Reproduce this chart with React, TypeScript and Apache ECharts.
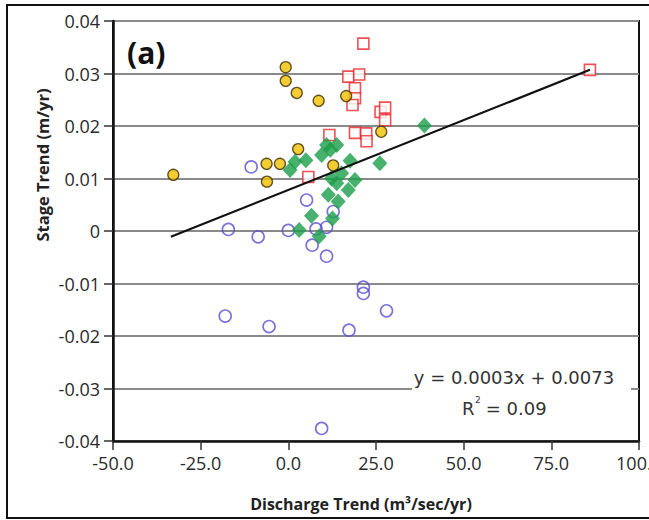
import React, { useEffect, useRef } from "react";
import * as echarts from "echarts";

// ---- data ----
const goldX = [-0.75, -0.75, 2.4, 8.65, 16.5, 2.8, -6.2, -2.4, -6.1, -32.8, 12.8, 26.5];
const goldY = [0.0312, 0.0286, 0.0263, 0.0248, 0.0257, 0.0156, 0.0128, 0.0128, 0.0094, 0.0107, 0.0125, 0.0189];

const redX = [21.4, 17.1, 20.2, 19.0, 19.0, 18.3, 26.3, 27.6, 27.6, 19.0, 22.2, 22.3, 11.7, 5.7, 86.0];
const redY = [0.0357, 0.0294, 0.0298, 0.0272, 0.0253, 0.024, 0.0227, 0.0235, 0.0211, 0.0187, 0.0186, 0.0171, 0.0183, 0.0103, 0.0307];

const greenX = [0.5, 1.9, 5.0, 9.5, 10.9, 13.8, 12.0, 17.6, 26.1, 38.8, 12.3, 15.2, 13.8, 17.1, 19.0, 11.4, 14.2, 6.6, 12.6, 3.1, 8.8];
const greenY = [0.0116, 0.0132, 0.0135, 0.0145, 0.0164, 0.0164, 0.0155, 0.0134, 0.0129, 0.0201, 0.01, 0.011, 0.0091, 0.0078, 0.0097, 0.0069, 0.0056, 0.0029, 0.0024, 0.0002, -0.001];

const blueX = [-10.6, 5.2, 12.8, -17.1, -8.6, 0.0, 7.9, 10.9, 6.8, 10.9, 21.4, 21.4, -18.0, -5.5, 17.3, 28.0, 9.5];
const blueY = [0.0122, 0.0059, 0.0037, 0.0003, -0.0011, 0.0001, 0.0004, 0.0007, -0.0027, -0.0048, -0.0107, -0.0119, -0.0162, -0.0182, -0.0189, -0.0152, -0.0376];

const trendX = [-33.5, 86.0];
const trendY = [-0.0011, 0.0307];

const xTicks = { min: -50, max: 100, interval: 25 };
const yTicks = { min: -0.04, max: 0.04, interval: 0.01 };

const equationText = "y = 0.0003x + 0.0073";
const r2Label = "R";
const r2Value = " = 0.09";
const panelLabel = "(a)";
const xTitle = "Discharge Trend (m³/sec/yr)";
const yTitle = "Stage Trend (m/yr)";

const zip = (xs: number[], ys: number[]) => xs.map((x, i) => [x, ys[i]]);

const LABEL_FONT = "'Open Sans', 'Noto Sans', sans-serif";

export default function App() {
  const ref = useRef<HTMLDivElement>(null);

  useEffect(() => {
    if (!ref.current) return;
    const chart = echarts.init(ref.current, undefined, { renderer: "svg" });
    chart.setOption({
      animation: false,
      backgroundColor: "#ffffff",
      grid: {
        left: 113,
        top: 21,
        width: 526,
        height: 420,
        containLabel: false,
        outerBoundsMode: "none",
        show: true,
        borderColor: "#111",
        borderWidth: 2,
        backgroundColor: "transparent",
      },
      xAxis: {
        type: "value",
        min: xTicks.min,
        max: xTicks.max,
        interval: xTicks.interval,
        axisLine: { show: true, onZero: false, lineStyle: { color: "#111", width: 2.5 } },
        axisTick: { show: true, length: 9, lineStyle: { color: "#333", width: 1.5 } },
        splitLine: { show: false },
        axisLabel: {
          margin: 13,
          color: "#2a2a2a",
          fontSize: 18,
          fontFamily: LABEL_FONT,
          formatter: (v: number) => v.toFixed(1),
        },
      },
      yAxis: {
        type: "value",
        min: yTicks.min,
        max: yTicks.max,
        interval: yTicks.interval,
        axisLine: { show: true, onZero: false, lineStyle: { color: "#111", width: 2.5 } },
        axisTick: { show: true, length: 9, lineStyle: { color: "#333", width: 1.5 } },
        splitLine: { show: true, lineStyle: { color: "#8a8a8a", width: 2 } },
        axisLabel: {
          margin: 13,
          color: "#2a2a2a",
          fontSize: 18,
          fontFamily: LABEL_FONT,
          formatter: (v: number) => (Math.abs(v) < 1e-9 ? "0" : v.toFixed(2)),
        },
      },
      series: [
        {
          type: "scatter",
          data: zip(blueX, blueY),
          symbol: "circle",
          symbolSize: 12,
          itemStyle: { color: "rgba(255,255,255,0)", borderColor: "#5a4fcf", borderWidth: 1.6 },
          z: 3,
        },
        {
          type: "scatter",
          data: zip(redX, redY),
          symbol: "rect",
          symbolSize: 11,
          itemStyle: { color: "#ffffff", borderColor: "#e8262a", borderWidth: 1.6 },
          z: 4,
        },
        {
          type: "scatter",
          data: zip(greenX, greenY),
          symbol: "diamond",
          symbolSize: [15, 16],
          itemStyle: { color: "#1a9e48" },
          z: 5,
        },
        {
          type: "scatter",
          data: zip(goldX, goldY),
          symbol: "circle",
          symbolSize: 11,
          itemStyle: { color: "#f0c000", borderColor: "#3a2a00", borderWidth: 1.3 },
          z: 6,
        },
        {
          type: "line",
          data: zip(trendX, trendY),
          showSymbol: false,
          symbol: "none",
          lineStyle: { color: "#111", width: 2.2 },
          z: 7,
        },
      ],
      graphic: [
        {
          type: "rect",
          shape: { x: 7, y: 5, width: 700, height: 513 },
          style: { fill: "none", stroke: "#111", lineWidth: 2 },
          silent: true,
          z: 100,
        },
        {
          type: "rect",
          shape: { x: 412, y: 362, width: 219, height: 58 },
          style: { fill: "#ffffff" },
          silent: true,
          z: 100,
        },
        {
          type: "text",
          x: 514,
          y: 377,
          z: 101,
          style: {
            text: equationText,
            fill: "#333",
            font: "18px 'DejaVu Sans', Verdana, sans-serif",
            align: "center",
            verticalAlign: "middle",
          },
        },
        {
          type: "group",
          x: 504,
          y: 408,
          z: 101,
          children: [
            {
              type: "text",
              x: -42,
              y: 0,
              z: 101,
              style: {
                text: r2Label,
                fill: "#333",
                font: "18px 'DejaVu Sans', Verdana, sans-serif",
                align: "left",
                verticalAlign: "middle",
              },
            },
            {
              type: "text",
              x: -29,
              y: -8,
              z: 101,
              style: {
                text: "2",
                fill: "#333",
                font: "9px 'DejaVu Sans', Verdana, sans-serif",
                align: "left",
                verticalAlign: "middle",
              },
            },
            {
              type: "text",
              x: -24,
              y: 0,
              z: 101,
              style: {
                text: r2Value,
                fill: "#333",
                font: "18px 'DejaVu Sans', Verdana, sans-serif",
                align: "left",
                verticalAlign: "middle",
              },
            },
          ],
        },
        {
          type: "text",
          x: 127,
          y: 52,
          z: 101,
          style: {
            text: panelLabel,
            fill: "#111",
            font: "bold 30px 'Open Sans', sans-serif",
            align: "left",
            verticalAlign: "middle",
          },
        },
        {
          type: "text",
          x: 361,
          y: 504,
          z: 101,
          style: {
            text: xTitle,
            fill: "#222",
            font: "bold 16px 'Open Sans', sans-serif",
            align: "center",
            verticalAlign: "middle",
          },
        },
        {
          type: "text",
          x: 42,
          y: 165,
          rotation: Math.PI / 2,
          z: 101,
          style: {
            text: yTitle,
            fill: "#222",
            font: "bold 16.5px 'Open Sans', sans-serif",
            align: "center",
            verticalAlign: "middle",
          },
        },
      ],
    });
    return () => chart.dispose();
  }, []);

  return (
    <div
      ref={ref}
      style={{ position: "fixed", left: 0, top: 0, width: 649, height: 520, background: "#fff" }}
    />
  );
}
